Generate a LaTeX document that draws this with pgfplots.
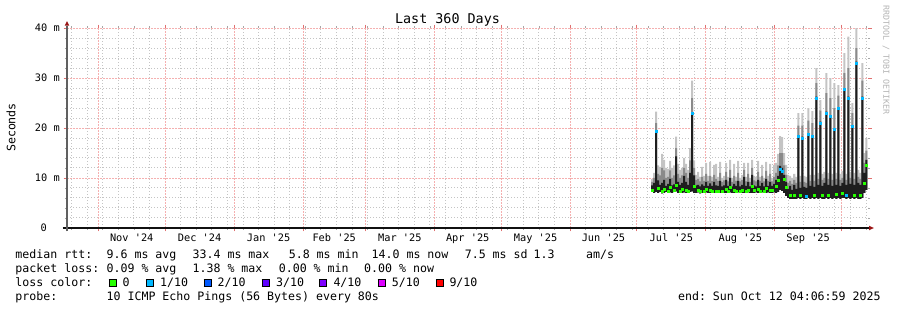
\documentclass[border=0pt]{standalone}
\usepackage{fontspec}
\setmonofont{DejaVu Sans Mono}
\renewcommand{\familydefault}{\ttdefault}
\usepackage{pgfplots}
\pgfplotsset{compat=1.18}
\usepackage{pgfplotstable}
\usepgfplotslibrary{fillbetween}

\definecolor{mgridc}{HTML}{F5B0B0}
\definecolor{mtickc}{HTML}{E07070}
\definecolor{gridc}{HTML}{C4C4C4}
\definecolor{smokeL}{HTML}{C4C4C4}
\definecolor{smokeM}{HTML}{8A8A8A}
\definecolor{smokeD}{HTML}{1E1E1E}
\definecolor{loss0}{HTML}{26FF00}
\definecolor{loss1}{HTML}{00B8FF}
\definecolor{loss2}{HTML}{0059FF}
\definecolor{loss3}{HTML}{5E00FF}
\definecolor{loss4}{HTML}{7E00FF}
\definecolor{loss5}{HTML}{DD00FF}
\definecolor{loss9}{HTML}{FF0000}
\definecolor{arrowred}{HTML}{9A1515}
\definecolor{axisx}{HTML}{101010}
\definecolor{axisy}{HTML}{606060}
\definecolor{wmark}{HTML}{B4B4B4}

\newcommand\lgd{\fontsize{11.6bp}{13bp}\selectfont}
\newcommand\tck{\fontsize{10.3bp}{12bp}\selectfont}
\newcommand\ttl{\fontsize{13.4bp}{15bp}\selectfont}
\newcommand\wm{\fontsize{8.3bp}{9bp}\selectfont}
\setlength\fboxsep{0pt}
\setlength\fboxrule{0.8bp}
\newcommand\lsq[1]{\fcolorbox{black}{#1}{\vrule width 0pt height 6.4bp\hspace{6.4bp}}}

% x = days since 17 Oct 2024 (axis 0..360), values in ms
% L = bottom of smoke, B = dark smoke top, M = mid smoke top, G = light smoke top,
% med = median, c = loss class of the median (g = 0, b = 1/10, n = not drawn)
\pgfplotstableread{
x L B M G med c
262.5 7.2 8.5 9.2 9.8 7.6 g
263.4 7.0 9.0 10.0 11.0 7.4 n
264.3 7.2 19.3 21.0 23.3 19.3 b
265.2 7.0 9.5 10.8 12.5 8.0 g
266.1 7.2 8.6 10.5 12.2 7.6 n
267.0 6.9 9.0 12.0 14.8 7.4 g
267.9 7.0 9.6 11.5 13.6 7.8 g
268.8 7.2 8.4 10.0 12.0 7.5 n
269.7 7.0 8.8 10.2 11.8 7.3 g
270.6 7.1 9.8 11.5 13.4 8.2 g
271.5 7.0 8.5 10.0 12.0 7.4 n
272.4 7.2 8.7 10.5 12.5 7.6 g
273.3 7.3 14.3 16.0 18.3 8.5 g
274.2 7.0 9.2 10.8 12.8 7.6 n
275.1 7.2 8.6 10.0 11.6 7.4 g
276.0 7.0 9.0 10.5 12.0 7.8 g
276.9 7.1 10.4 12.0 14.0 8.6 n
277.8 7.0 9.2 11.0 12.8 7.5 g
278.7 7.1 8.6 10.0 11.6 7.4 g
279.6 7.2 11.0 13.5 16.0 8.0 n
280.5 7.3 23.0 26.0 29.5 23.0 b
281.4 7.0 10.5 12.0 13.5 8.4 g
282.3 7.0 8.5 9.6 10.6 7.4 n
283.2 7.1 8.6 9.8 11.2 7.6 g
284.1 6.9 8.3 9.3 10.2 7.3 g
285.0 7.0 8.7 10.2 12.2 7.5 n
285.9 7.0 8.4 9.4 10.4 7.4 g
286.8 7.1 9.2 10.8 13.0 7.8 g
287.7 7.0 8.4 9.4 10.4 7.4 n
288.6 7.0 8.9 10.4 13.2 7.6 g
289.5 7.1 8.4 9.4 10.2 7.3 g
290.4 7.0 9.2 10.6 12.6 7.8 n
291.3 7.1 8.5 9.8 12.8 7.4 g
292.2 7.0 8.4 9.4 10.2 7.4 g
293.1 7.0 9.4 11.0 13.2 7.6 n
294.0 7.1 8.3 9.2 10.0 7.3 g
294.9 7.0 8.5 9.5 10.4 7.5 n
295.8 7.0 9.6 11.2 13.0 7.8 g
296.7 7.0 8.4 9.3 10.2 7.4 g
297.6 7.1 10.0 11.6 13.6 8.2 g
298.5 7.0 8.3 9.2 10.0 7.3 n
299.4 7.0 8.8 10.4 12.8 7.5 g
300.3 7.0 8.4 9.4 10.2 7.4 g
301.2 7.1 9.4 11.0 13.4 7.6 n
302.1 7.0 8.3 9.3 10.0 7.3 g
303.0 7.0 8.6 9.6 10.6 7.5 g
303.9 7.0 10.2 11.6 13.0 8.0 n
304.8 7.0 8.4 9.3 10.2 7.4 g
305.7 7.1 9.2 10.8 13.0 7.6 g
306.6 7.0 8.3 9.2 10.0 7.3 n
307.5 7.0 10.6 12.0 13.6 8.4 g
308.4 7.0 8.5 9.5 10.4 7.5 g
309.3 7.1 8.3 9.3 10.2 7.4 n
310.2 7.0 9.6 11.2 13.4 7.8 g
311.1 7.0 8.4 9.4 10.2 7.4 g
312.0 7.1 9.0 10.4 12.6 7.6 n
312.9 7.0 8.3 9.3 10.0 7.3 g
313.8 7.0 9.8 11.4 13.2 8.0 g
314.7 7.1 8.4 9.4 10.4 7.4 n
315.6 7.0 9.2 10.8 12.8 7.6 g
316.5 7.0 8.4 9.3 10.0 7.5 g
317.4 7.1 8.8 10.2 12.6 7.6 n
318.3 7.0 9.6 11.0 13.0 8.4 g
319.2 7.2 10.4 12.5 14.8 9.6 g
320.1 7.6 12.4 15.0 18.4 11.8 b
321.0 7.4 12.0 15.0 18.2 11.4 b
321.9 7.0 10.6 12.5 15.0 9.8 g
322.8 6.4 9.2 10.6 12.6 8.2 g
323.7 6.0 7.8 9.0 10.6 6.8 n
324.6 5.8 8.4 9.4 10.4 6.6 g
325.5 5.8 7.6 8.8 10.0 6.4 n
326.4 5.8 8.6 9.6 10.8 6.6 g
327.3 5.8 7.8 9.0 10.2 6.4 n
328.2 6.0 18.5 20.5 23.0 18.4 b
329.1 5.8 8.0 9.2 10.4 6.6 g
330.0 6.0 18.3 20.5 23.0 18.0 b
330.9 5.8 8.2 9.2 10.4 6.6 n
331.8 5.8 8.0 9.0 10.2 6.4 b
332.7 6.0 19.0 21.5 24.0 18.8 b
333.6 5.8 8.4 9.4 10.6 6.6 n
334.5 6.0 18.6 21.0 23.4 18.4 b
335.4 5.8 8.2 9.4 10.6 6.6 g
336.3 6.0 26.3 29.0 32.0 26.0 b
337.2 5.8 8.6 9.8 11.0 6.8 n
338.1 6.0 21.3 23.5 25.6 21.0 b
339.0 5.8 8.4 9.6 10.8 6.6 g
339.9 5.8 9.0 10.0 11.2 6.8 n
340.8 6.0 23.3 27.0 31.0 23.0 b
341.7 5.8 8.6 9.8 11.0 6.6 g
342.6 6.0 22.3 26.0 30.0 22.3 b
343.5 5.8 8.4 9.6 10.8 6.6 n
344.4 6.0 20.0 24.0 29.0 19.8 b
345.3 5.8 8.6 9.8 11.0 6.8 g
346.2 6.0 24.0 26.5 28.6 24.0 b
347.1 5.8 8.4 9.6 10.8 6.6 n
348.0 6.0 9.0 10.0 11.4 7.0 g
348.9 6.0 28.0 31.0 35.0 27.8 b
349.8 5.8 8.6 9.6 10.8 6.6 b
350.7 6.0 26.3 32.0 38.3 26.0 b
351.6 5.8 8.8 10.0 11.2 6.8 n
352.5 6.0 20.6 23.0 25.0 20.4 b
353.4 5.8 8.6 9.8 11.0 6.6 g
354.3 6.0 33.3 36.0 40.0 33.0 b
355.2 5.8 9.0 10.2 11.6 7.0 n
356.1 5.8 8.6 9.8 11.0 6.6 g
357.0 6.0 26.3 29.5 33.0 26.0 b
357.9 7.0 11.0 13.0 15.0 9.0 g
358.8 7.6 13.6 15.5 18.0 12.6 g
359.7 7.6 13.6 15.5 18.0 12.6 n
}\smoke

\begin{document}
\begin{tikzpicture}
\path (0,0) rectangle (897bp,310bp);
\begin{axis}[
  at={(67bp,82bp)}, anchor=south west,
  scale only axis, width=801bp, height=200bp,
  xmin=0, xmax=360, ymin=0, ymax=40,
  clip=false,
  axis line style={draw=none},
  xtick={14.1,44.1,75.1,106.1,134.1,165.1,195.1,226.1,256.1,287.1,318.1,348.1},
  minor xtick={2.1,9.1,...,359.1},
  ytick={0,10,20,30,40},
  minor ytick={2,4,6,8,12,14,16,18,22,24,26,28,32,34,36,38},
  xticklabels={}, yticklabels={},
  xmajorgrids, xminorgrids, ymajorgrids, yminorgrids,
  major grid style={mgridc, line width=0.9bp, dash pattern=on 1.5bp off 1.5bp},
  minor grid style={gridc, line width=1bp, dash pattern=on 1bp off 2bp},
  tick align=outside,
  major tick length=3.5bp, minor tick length=2bp,
  every major tick/.append style={mtickc, line width=0.8bp},
  every minor tick/.append style={gray!70, line width=0.8bp},
]
\addplot[name path=lo, draw=none, const plot] table[x=x, y=L] {\smoke};
\addplot[name path=gg, draw=none, const plot] table[x=x, y=G] {\smoke};
\addplot[name path=mm, draw=none, const plot] table[x=x, y=M] {\smoke};
\addplot[name path=bb, draw=none, const plot] table[x=x, y=B] {\smoke};
\addplot[smokeL] fill between[of=lo and gg];
\addplot[smokeM] fill between[of=lo and mm];
\addplot[smokeD] fill between[of=lo and bb];
\addplot[scatter, only marks, mark=square*, mark size=1bp,
  point meta=explicit symbolic,
  scatter/classes={g={mark=square*, loss0}, b={mark=square*, loss1}, n={mark=none}}]
  table[x expr=\thisrow{x}+0.45, y=med, meta=c] {\smoke};

% axis lines and arrows
\draw[axisx, line width=1.1bp] ([xshift=-4.3bp]rel axis cs:0,0) -- ([xshift=1.5bp]rel axis cs:1,0);
\draw[axisy, line width=1.1bp] ([yshift=-3.5bp]rel axis cs:0,0) -- ([yshift=2.5bp]rel axis cs:0,1);
\fill[arrowred] ([xshift=1bp,yshift=-2.3bp]rel axis cs:1,0) -- ([xshift=5.8bp]rel axis cs:1,0) -- ([xshift=1bp,yshift=2.3bp]rel axis cs:1,0) -- cycle;
\fill[arrowred] ([xshift=-2.3bp,yshift=2.3bp]rel axis cs:0,1) -- ([yshift=6.8bp]rel axis cs:0,1) -- ([xshift=2.3bp,yshift=2.3bp]rel axis cs:0,1) -- cycle;

% month labels
\node[font=\tck, anchor=base] at ([yshift=-13.3bp]axis cs:29.1,0) {Nov '24};
\node[font=\tck, anchor=base] at ([yshift=-13.3bp]axis cs:59.6,0) {Dec '24};
\node[font=\tck, anchor=base] at ([yshift=-13.3bp]axis cs:90.6,0) {Jan '25};
\node[font=\tck, anchor=base] at ([yshift=-13.3bp]axis cs:120.1,0) {Feb '25};
\node[font=\tck, anchor=base] at ([yshift=-13.3bp]axis cs:149.6,0) {Mar '25};
\node[font=\tck, anchor=base] at ([yshift=-13.3bp]axis cs:180.1,0) {Apr '25};
\node[font=\tck, anchor=base] at ([yshift=-13.3bp]axis cs:210.6,0) {May '25};
\node[font=\tck, anchor=base] at ([yshift=-13.3bp]axis cs:241.1,0) {Jun '25};
\node[font=\tck, anchor=base] at ([yshift=-13.3bp]axis cs:271.6,0) {Jul '25};
\node[font=\tck, anchor=base] at ([yshift=-13.3bp]axis cs:302.6,0) {Aug '25};
\node[font=\tck, anchor=base] at ([yshift=-13.3bp]axis cs:333.1,0) {Sep '25};

% y labels
\node[font=\tck, anchor=east, inner sep=0pt] at ([xshift=-7bp]axis cs:0,40) {40 m};
\node[font=\tck, anchor=east, inner sep=0pt] at ([xshift=-7bp]axis cs:0,30) {30 m};
\node[font=\tck, anchor=east, inner sep=0pt] at ([xshift=-7bp]axis cs:0,20) {20 m};
\node[font=\tck, anchor=east, inner sep=0pt] at ([xshift=-7bp]axis cs:0,10) {10 m};
\node[font=\tck, anchor=east, inner sep=0pt] at ([xshift=-20bp]axis cs:0,0) {0};
\end{axis}

% title, axis label, watermark
\node[font=\ttl, anchor=base] at (447.5bp,286bp) {Last 360 Days};
\node[font=\lgd, rotate=90, anchor=center] at (11bp,182.5bp) {Seconds};
\node[font=\wm, rotate=-90, anchor=center, text=wmark] at (886bp,250bp) {RRDTOOL / TOBI OETIKER};

% legend
\begin{scope}[every node/.style={font=\lgd, anchor=base west, inner sep=0pt}]
\node at (15.3bp,51.7bp) {median rtt:};
\node at (106.4bp,51.7bp) {9.6 ms avg};
\node at (192.4bp,51.7bp) {33.4 ms max};
\node at (288.6bp,51.7bp) {5.8 ms min};
\node at (371.4bp,51.7bp) {14.0 ms now};
\node at (464.6bp,51.7bp) {7.5 ms sd};
\node at (533.4bp,51.7bp) {1.3};
\node at (586bp,51.7bp) {am/s};

\node at (15.3bp,37.7bp) {packet loss:};
\node at (106.4bp,37.7bp) {0.09 \% avg};
\node at (192.4bp,37.7bp) {1.38 \% max};
\node at (278.6bp,37.7bp) {0.00 \% min};
\node at (364bp,37.7bp) {0.00 \% now};

\node at (15.3bp,24bp) {loss color:};
\node at (108.3bp,24bp) {\lsq{loss0}};
\node at (122.5bp,24bp) {0};
\node at (145.7bp,24bp) {\lsq{loss1}};
\node at (160bp,24bp) {1/10};
\node at (203.3bp,24bp) {\lsq{loss2}};
\node at (217.5bp,24bp) {2/10};
\node at (261.3bp,24bp) {\lsq{loss3}};
\node at (276bp,24bp) {3/10};
\node at (319bp,24bp) {\lsq{loss4}};
\node at (333.3bp,24bp) {4/10};
\node at (377.3bp,24bp) {\lsq{loss5}};
\node at (391.6bp,24bp) {5/10};
\node at (435.7bp,24bp) {\lsq{loss9}};
\node at (449.3bp,24bp) {9/10};

\node at (15.3bp,10bp) {probe:};
\node at (106.4bp,10bp) {10 ICMP Echo Pings (56 Bytes) every 80s};
\node[anchor=base east] at (880.8bp,10bp) {end: Sun Oct 12 04:06:59 2025};
\end{scope}
\pgfresetboundingbox
\path[use as bounding box] (0,0) rectangle (897bp,310bp);
\end{tikzpicture}
\end{document}
